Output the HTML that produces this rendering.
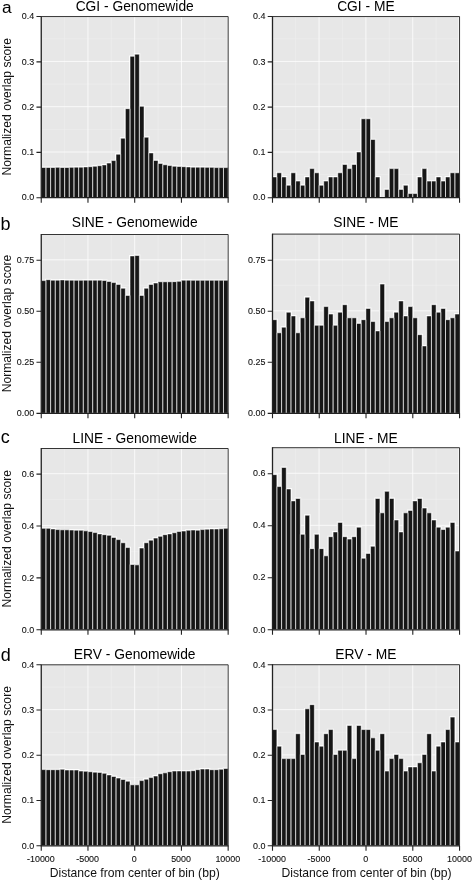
<!DOCTYPE html>
<html lang="en"><head><meta charset="utf-8"><title>Normalized overlap score</title>
<style>
html,body{margin:0;padding:0;background:#fff;}
body{width:473px;height:881px;overflow:hidden;}
svg{display:block;}
text{font-family:"Liberation Sans",sans-serif;fill:#111;}
.tk{font-size:9.6px;fill:#111;stroke:#111;stroke-width:0.1px;}
.tt{font-size:13.8px;fill:#000;}
.yl{font-size:12.15px;fill:#111;}
.xl{font-size:12.15px;fill:#111;}
.lt{font-size:18px;fill:#000;}
</style></head><body>
<svg width="473" height="881" viewBox="0 0 473 881">
<rect width="473" height="881" fill="#fff"/>
<g>
<rect x="41.25" y="16.55" width="186.90" height="181.15" fill="#e7e7e7"/>
<path d="M41.25 174.66H228.15M41.25 129.37H228.15M41.25 84.08H228.15M41.25 38.79H228.15M64.61 16.55V197.70M111.34 16.55V197.70M158.06 16.55V197.70M204.79 16.55V197.70" stroke="#f0f0f0" stroke-width="0.5" fill="none"/>
<path d="M41.25 152.01H228.15M41.25 106.72H228.15M41.25 61.44H228.15M41.25 16.15H228.15M87.97 16.55V197.70M134.70 16.55V197.70M181.43 16.55V197.70M227.40 16.55V197.70" stroke="#fdfdfd" stroke-width="0.85" fill="none"/>
<path d="M41.25 197.70V167.51H45.92V197.70ZM45.92 197.70V167.51H50.59V197.70ZM50.59 197.70V167.51H55.27V197.70ZM55.27 197.70V167.33H59.94V197.70ZM59.94 197.70V167.51H64.61V197.70ZM64.61 197.70V167.51H69.28V197.70ZM69.28 197.70V167.37H73.96V197.70ZM73.96 197.70V167.14H78.63V197.70ZM78.63 197.70V167.14H83.30V197.70ZM83.30 197.70V166.92H87.97V197.70ZM87.97 197.70V166.69H92.65V197.70ZM92.65 197.70V166.24H97.32V197.70ZM97.32 197.70V165.69H101.99V197.70ZM101.99 197.70V164.88H106.67V197.70ZM106.67 197.70V163.06H111.34V197.70ZM111.34 197.70V160.57H116.01V197.70ZM116.01 197.70V154.21H120.68V197.70ZM120.68 197.70V138.20H125.36V197.70ZM125.36 197.70V108.70H130.03V197.70ZM130.03 197.70V56.29H134.70V197.70ZM134.70 197.70V54.16H139.37V197.70ZM139.37 197.70V106.34H144.05V197.70ZM144.05 197.70V137.20H148.72V197.70ZM148.72 197.70V152.90H153.39V197.70ZM153.39 197.70V160.43H158.06V197.70ZM158.06 197.70V163.42H162.74V197.70ZM162.74 197.70V164.74H167.41V197.70ZM167.41 197.70V165.56H172.08V197.70ZM172.08 197.70V166.24H176.75V197.70ZM176.75 197.70V166.46H181.43V197.70ZM181.43 197.70V166.69H186.10V197.70ZM186.10 197.70V166.92H190.77V197.70ZM190.77 197.70V167.14H195.44V197.70ZM195.44 197.70V167.14H200.12V197.70ZM200.12 197.70V167.14H204.79V197.70ZM204.79 197.70V167.37H209.46V197.70ZM209.46 197.70V167.37H214.13V197.70ZM214.13 197.70V167.60H218.81V197.70ZM218.81 197.70V167.60H223.48V197.70ZM223.48 197.70V167.60H228.15V197.70Z" fill="none" stroke="#fff" stroke-width="1.8" stroke-opacity="0.95"/>
<path d="M41.25 197.70V167.51H45.92V197.70ZM45.92 197.70V167.51H50.59V197.70ZM50.59 197.70V167.51H55.27V197.70ZM55.27 197.70V167.33H59.94V197.70ZM59.94 197.70V167.51H64.61V197.70ZM64.61 197.70V167.51H69.28V197.70ZM69.28 197.70V167.37H73.96V197.70ZM73.96 197.70V167.14H78.63V197.70ZM78.63 197.70V167.14H83.30V197.70ZM83.30 197.70V166.92H87.97V197.70ZM87.97 197.70V166.69H92.65V197.70ZM92.65 197.70V166.24H97.32V197.70ZM97.32 197.70V165.69H101.99V197.70ZM101.99 197.70V164.88H106.67V197.70ZM106.67 197.70V163.06H111.34V197.70ZM111.34 197.70V160.57H116.01V197.70ZM116.01 197.70V154.21H120.68V197.70ZM120.68 197.70V138.20H125.36V197.70ZM125.36 197.70V108.70H130.03V197.70ZM130.03 197.70V56.29H134.70V197.70ZM134.70 197.70V54.16H139.37V197.70ZM139.37 197.70V106.34H144.05V197.70ZM144.05 197.70V137.20H148.72V197.70ZM148.72 197.70V152.90H153.39V197.70ZM153.39 197.70V160.43H158.06V197.70ZM158.06 197.70V163.42H162.74V197.70ZM162.74 197.70V164.74H167.41V197.70ZM167.41 197.70V165.56H172.08V197.70ZM172.08 197.70V166.24H176.75V197.70ZM176.75 197.70V166.46H181.43V197.70ZM181.43 197.70V166.69H186.10V197.70ZM186.10 197.70V166.92H190.77V197.70ZM190.77 197.70V167.14H195.44V197.70ZM195.44 197.70V167.14H200.12V197.70ZM200.12 197.70V167.14H204.79V197.70ZM204.79 197.70V167.37H209.46V197.70ZM209.46 197.70V167.37H214.13V197.70ZM214.13 197.70V167.60H218.81V197.70ZM218.81 197.70V167.60H223.48V197.70ZM223.48 197.70V167.60H228.15V197.70Z" fill="#161616" stroke="#fff" stroke-width="0.55"/>
<path d="M41.25 16.55H228.15V197.70" stroke="#2a2a2a" stroke-width="0.95" fill="none"/>
<path d="M41.25 16.15V197.70H228.55" stroke="#222" stroke-width="1.3" fill="none"/>
<path d="M36.45 197.70H41.25M36.45 152.41H41.25M36.45 107.12H41.25M36.45 61.84H41.25M36.45 16.55H41.25M41.25 197.70V202.70M87.97 197.70V202.70M134.70 197.70V202.70M181.43 197.70V202.70M228.15 197.70V202.70" stroke="#222" stroke-width="1.1" fill="none"/>
<text class="tk" transform="translate(34.25 200.40) scale(0.93 1)" text-anchor="end">0.0</text>
<text class="tk" transform="translate(34.25 155.11) scale(0.93 1)" text-anchor="end">0.1</text>
<text class="tk" transform="translate(34.25 109.82) scale(0.93 1)" text-anchor="end">0.2</text>
<text class="tk" transform="translate(34.25 64.54) scale(0.93 1)" text-anchor="end">0.3</text>
<text class="tk" transform="translate(34.25 19.25) scale(0.93 1)" text-anchor="end">0.4</text>
<text class="tt" x="134.70" y="10.50" text-anchor="middle">CGI - Genomewide</text>
</g>
<g>
<rect x="272.20" y="16.55" width="187.35" height="181.15" fill="#e7e7e7"/>
<path d="M272.20 174.66H459.55M272.20 129.37H459.55M272.20 84.08H459.55M272.20 38.79H459.55M295.62 16.55V197.70M342.46 16.55V197.70M389.29 16.55V197.70M436.13 16.55V197.70" stroke="#f0f0f0" stroke-width="0.5" fill="none"/>
<path d="M272.20 152.01H459.55M272.20 106.72H459.55M272.20 61.44H459.55M272.20 16.15H459.55M319.04 16.55V197.70M365.88 16.55V197.70M412.71 16.55V197.70M458.80 16.55V197.70" stroke="#fdfdfd" stroke-width="0.85" fill="none"/>
<path d="M272.20 197.70V176.93H276.88V197.70ZM276.88 197.70V172.77H281.57V197.70ZM281.57 197.70V176.93H286.25V197.70ZM286.25 197.70V185.24H290.94V197.70ZM290.94 197.70V172.77H295.62V197.70ZM295.62 197.70V181.08H300.30V197.70ZM300.30 197.70V185.24H304.99V197.70ZM304.99 197.70V176.93H309.67V197.70ZM309.67 197.70V168.62H314.35V197.70ZM314.35 197.70V172.77H319.04V197.70ZM319.04 197.70V185.24H323.72V197.70ZM323.72 197.70V181.08H328.40V197.70ZM328.40 197.70V176.93H333.09V197.70ZM333.09 197.70V176.93H337.77V197.70ZM337.77 197.70V172.77H342.46V197.70ZM342.46 197.70V164.46H347.14V197.70ZM347.14 197.70V168.62H351.82V197.70ZM351.82 197.70V164.46H356.51V197.70ZM356.51 197.70V152.00H361.19V197.70ZM361.19 197.70V118.76H365.88V197.70ZM365.88 197.70V118.76H370.56V197.70ZM370.56 197.70V139.53H375.24V197.70ZM375.24 197.70V176.93H379.93V197.70ZM384.61 197.70V189.39H389.29V197.70ZM389.29 197.70V168.62H393.98V197.70ZM393.98 197.70V168.62H398.66V197.70ZM398.66 197.70V189.39H403.35V197.70ZM403.35 197.70V185.24H408.03V197.70ZM408.03 197.70V193.55H412.71V197.70ZM412.71 197.70V193.55H417.40V197.70ZM417.40 197.70V176.93H422.08V197.70ZM422.08 197.70V168.62H426.76V197.70ZM426.76 197.70V181.08H431.45V197.70ZM431.45 197.70V181.08H436.13V197.70ZM436.13 197.70V176.93H440.82V197.70ZM440.82 197.70V181.08H445.50V197.70ZM445.50 197.70V176.93H450.18V197.70ZM450.18 197.70V172.77H454.87V197.70ZM454.87 197.70V172.77H459.55V197.70Z" fill="none" stroke="#fff" stroke-width="1.8" stroke-opacity="0.95"/>
<path d="M272.20 197.70V176.93H276.88V197.70ZM276.88 197.70V172.77H281.57V197.70ZM281.57 197.70V176.93H286.25V197.70ZM286.25 197.70V185.24H290.94V197.70ZM290.94 197.70V172.77H295.62V197.70ZM295.62 197.70V181.08H300.30V197.70ZM300.30 197.70V185.24H304.99V197.70ZM304.99 197.70V176.93H309.67V197.70ZM309.67 197.70V168.62H314.35V197.70ZM314.35 197.70V172.77H319.04V197.70ZM319.04 197.70V185.24H323.72V197.70ZM323.72 197.70V181.08H328.40V197.70ZM328.40 197.70V176.93H333.09V197.70ZM333.09 197.70V176.93H337.77V197.70ZM337.77 197.70V172.77H342.46V197.70ZM342.46 197.70V164.46H347.14V197.70ZM347.14 197.70V168.62H351.82V197.70ZM351.82 197.70V164.46H356.51V197.70ZM356.51 197.70V152.00H361.19V197.70ZM361.19 197.70V118.76H365.88V197.70ZM365.88 197.70V118.76H370.56V197.70ZM370.56 197.70V139.53H375.24V197.70ZM375.24 197.70V176.93H379.93V197.70ZM384.61 197.70V189.39H389.29V197.70ZM389.29 197.70V168.62H393.98V197.70ZM393.98 197.70V168.62H398.66V197.70ZM398.66 197.70V189.39H403.35V197.70ZM403.35 197.70V185.24H408.03V197.70ZM408.03 197.70V193.55H412.71V197.70ZM412.71 197.70V193.55H417.40V197.70ZM417.40 197.70V176.93H422.08V197.70ZM422.08 197.70V168.62H426.76V197.70ZM426.76 197.70V181.08H431.45V197.70ZM431.45 197.70V181.08H436.13V197.70ZM436.13 197.70V176.93H440.82V197.70ZM440.82 197.70V181.08H445.50V197.70ZM445.50 197.70V176.93H450.18V197.70ZM450.18 197.70V172.77H454.87V197.70ZM454.87 197.70V172.77H459.55V197.70Z" fill="#161616" stroke="#fff" stroke-width="0.55"/>
<path d="M272.20 16.55H459.55V197.70" stroke="#2a2a2a" stroke-width="0.95" fill="none"/>
<path d="M272.50 16.15V197.70H459.95" stroke="#222" stroke-width="1.3" fill="none"/>
<path d="M267.70 197.70H272.50M267.70 152.41H272.50M267.70 107.12H272.50M267.70 61.84H272.50M267.70 16.55H272.50M272.50 197.70V202.70M319.26 197.70V202.70M366.02 197.70V202.70M412.79 197.70V202.70M459.55 197.70V202.70" stroke="#222" stroke-width="1.1" fill="none"/>
<text class="tk" transform="translate(265.50 200.40) scale(0.93 1)" text-anchor="end">0.0</text>
<text class="tk" transform="translate(265.50 155.11) scale(0.93 1)" text-anchor="end">0.1</text>
<text class="tk" transform="translate(265.50 109.82) scale(0.93 1)" text-anchor="end">0.2</text>
<text class="tk" transform="translate(265.50 64.54) scale(0.93 1)" text-anchor="end">0.3</text>
<text class="tk" transform="translate(265.50 19.25) scale(0.93 1)" text-anchor="end">0.4</text>
<text class="tt" x="365.88" y="10.50" text-anchor="middle">CGI - ME</text>
</g>
<text class="yl" transform="translate(11.3 106.72) rotate(-90)" text-anchor="middle">Normalized overlap score</text>
<text class="lt" style="font-size:17.3px" x="1.90" y="12.50">a</text>
<g>
<rect x="41.25" y="234.50" width="186.90" height="178.85" fill="#e7e7e7"/>
<path d="M41.25 387.43H228.15M41.25 336.38H228.15M41.25 285.33H228.15M64.61 234.50V413.35M111.34 234.50V413.35M158.06 234.50V413.35M204.79 234.50V413.35" stroke="#f0f0f0" stroke-width="0.5" fill="none"/>
<path d="M41.25 361.90H228.15M41.25 310.85H228.15M41.25 259.80H228.15M87.97 234.50V413.35M134.70 234.50V413.35M181.43 234.50V413.35M227.40 234.50V413.35" stroke="#fdfdfd" stroke-width="0.85" fill="none"/>
<path d="M41.25 413.35V280.60H45.92V413.35ZM45.92 413.35V279.70H50.59V413.35ZM50.59 413.35V280.17H55.27V413.35ZM55.27 413.35V280.17H59.94V413.35ZM59.94 413.35V279.90H64.61V413.35ZM64.61 413.35V280.17H69.28V413.35ZM69.28 413.35V280.17H73.96V413.35ZM73.96 413.35V280.31H78.63V413.35ZM78.63 413.35V280.31H83.30V413.35ZM83.30 413.35V280.17H87.97V413.35ZM87.97 413.35V280.17H92.65V413.35ZM92.65 413.35V280.17H97.32V413.35ZM97.32 413.35V280.17H101.99V413.35ZM101.99 413.35V280.52H106.67V413.35ZM106.67 413.35V281.44H111.34V413.35ZM111.34 413.35V282.57H116.01V413.35ZM116.01 413.35V284.41H120.68V413.35ZM120.68 413.35V288.21H125.36V413.35ZM125.36 413.35V295.38H130.03V413.35ZM130.03 413.35V255.91H134.70V413.35ZM134.70 413.35V255.50H139.37V413.35ZM139.37 413.35V295.38H144.05V413.35ZM144.05 413.35V288.21H148.72V413.35ZM148.72 413.35V284.41H153.39V413.35ZM153.39 413.35V282.98H158.06V413.35ZM158.06 413.35V281.75H162.74V413.35ZM162.74 413.35V281.75H167.41V413.35ZM167.41 413.35V281.75H172.08V413.35ZM172.08 413.35V281.64H176.75V413.35ZM176.75 413.35V281.34H181.43V413.35ZM181.43 413.35V280.17H186.10V413.35ZM186.10 413.35V280.17H190.77V413.35ZM190.77 413.35V280.31H195.44V413.35ZM195.44 413.35V280.31H200.12V413.35ZM200.12 413.35V280.31H204.79V413.35ZM204.79 413.35V280.31H209.46V413.35ZM209.46 413.35V280.31H214.13V413.35ZM214.13 413.35V280.31H218.81V413.35ZM218.81 413.35V280.31H223.48V413.35ZM223.48 413.35V280.31H228.15V413.35Z" fill="none" stroke="#fff" stroke-width="1.8" stroke-opacity="0.95"/>
<path d="M41.25 413.35V280.60H45.92V413.35ZM45.92 413.35V279.70H50.59V413.35ZM50.59 413.35V280.17H55.27V413.35ZM55.27 413.35V280.17H59.94V413.35ZM59.94 413.35V279.90H64.61V413.35ZM64.61 413.35V280.17H69.28V413.35ZM69.28 413.35V280.17H73.96V413.35ZM73.96 413.35V280.31H78.63V413.35ZM78.63 413.35V280.31H83.30V413.35ZM83.30 413.35V280.17H87.97V413.35ZM87.97 413.35V280.17H92.65V413.35ZM92.65 413.35V280.17H97.32V413.35ZM97.32 413.35V280.17H101.99V413.35ZM101.99 413.35V280.52H106.67V413.35ZM106.67 413.35V281.44H111.34V413.35ZM111.34 413.35V282.57H116.01V413.35ZM116.01 413.35V284.41H120.68V413.35ZM120.68 413.35V288.21H125.36V413.35ZM125.36 413.35V295.38H130.03V413.35ZM130.03 413.35V255.91H134.70V413.35ZM134.70 413.35V255.50H139.37V413.35ZM139.37 413.35V295.38H144.05V413.35ZM144.05 413.35V288.21H148.72V413.35ZM148.72 413.35V284.41H153.39V413.35ZM153.39 413.35V282.98H158.06V413.35ZM158.06 413.35V281.75H162.74V413.35ZM162.74 413.35V281.75H167.41V413.35ZM167.41 413.35V281.75H172.08V413.35ZM172.08 413.35V281.64H176.75V413.35ZM176.75 413.35V281.34H181.43V413.35ZM181.43 413.35V280.17H186.10V413.35ZM186.10 413.35V280.17H190.77V413.35ZM190.77 413.35V280.31H195.44V413.35ZM195.44 413.35V280.31H200.12V413.35ZM200.12 413.35V280.31H204.79V413.35ZM204.79 413.35V280.31H209.46V413.35ZM209.46 413.35V280.31H214.13V413.35ZM214.13 413.35V280.31H218.81V413.35ZM218.81 413.35V280.31H223.48V413.35ZM223.48 413.35V280.31H228.15V413.35Z" fill="#161616" stroke="#fff" stroke-width="0.55"/>
<path d="M41.25 234.50H228.15V413.35" stroke="#2a2a2a" stroke-width="0.95" fill="none"/>
<path d="M41.25 234.10V413.35H228.55" stroke="#222" stroke-width="1.3" fill="none"/>
<path d="M36.45 413.35H41.25M36.45 362.30H41.25M36.45 311.25H41.25M36.45 260.20H41.25M41.25 413.35V418.35M87.97 413.35V418.35M134.70 413.35V418.35M181.43 413.35V418.35M228.15 413.35V418.35" stroke="#222" stroke-width="1.1" fill="none"/>
<text class="tk" transform="translate(34.25 416.05) scale(0.93 1)" text-anchor="end">0.00</text>
<text class="tk" transform="translate(34.25 365.00) scale(0.93 1)" text-anchor="end">0.25</text>
<text class="tk" transform="translate(34.25 313.95) scale(0.93 1)" text-anchor="end">0.50</text>
<text class="tk" transform="translate(34.25 262.90) scale(0.93 1)" text-anchor="end">0.75</text>
<text class="tt" x="134.70" y="227.00" text-anchor="middle">SINE - Genomewide</text>
</g>
<g>
<rect x="272.20" y="234.10" width="187.35" height="179.25" fill="#e7e7e7"/>
<path d="M272.20 387.43H459.55M272.20 336.38H459.55M272.20 285.33H459.55M295.62 234.10V413.35M342.46 234.10V413.35M389.29 234.10V413.35M436.13 234.10V413.35" stroke="#f0f0f0" stroke-width="0.5" fill="none"/>
<path d="M272.20 361.90H459.55M272.20 310.85H459.55M272.20 259.80H459.55M319.04 234.10V413.35M365.88 234.10V413.35M412.71 234.10V413.35M458.80 234.10V413.35" stroke="#fdfdfd" stroke-width="0.85" fill="none"/>
<path d="M272.20 413.35V319.68H276.88V413.35ZM276.88 413.35V332.79H281.57V413.35ZM281.57 413.35V327.17H286.25V413.35ZM286.25 413.35V312.19H290.94V413.35ZM290.94 413.35V315.93H295.62V413.35ZM295.62 413.35V332.79H300.30V413.35ZM300.30 413.35V317.81H304.99V413.35ZM304.99 413.35V297.20H309.67V413.35ZM309.67 413.35V300.95H314.35V413.35ZM314.35 413.35V325.30H319.04V413.35ZM319.04 413.35V325.30H323.72V413.35ZM323.72 413.35V306.57H328.40V413.35ZM328.40 413.35V314.06H333.09V413.35ZM333.09 413.35V325.30H337.77V413.35ZM337.77 413.35V312.19H342.46V413.35ZM342.46 413.35V304.69H347.14V413.35ZM347.14 413.35V317.81H351.82V413.35ZM351.82 413.35V317.81H356.51V413.35ZM356.51 413.35V323.43H361.19V413.35ZM361.19 413.35V319.68H365.88V413.35ZM365.88 413.35V308.44H370.56V413.35ZM370.56 413.35V321.55H375.24V413.35ZM375.24 413.35V330.92H379.93V413.35ZM379.93 413.35V284.09H384.61V413.35ZM384.61 413.35V321.55H389.29V413.35ZM389.29 413.35V317.81H393.98V413.35ZM393.98 413.35V312.19H398.66V413.35ZM398.66 413.35V300.95H403.35V413.35ZM403.35 413.35V315.93H408.03V413.35ZM408.03 413.35V306.57H412.71V413.35ZM412.71 413.35V317.81H417.40V413.35ZM417.40 413.35V334.67H422.08V413.35ZM422.08 413.35V345.91H426.76V413.35ZM426.76 413.35V315.93H431.45V413.35ZM431.45 413.35V304.69H436.13V413.35ZM436.13 413.35V312.19H440.82V413.35ZM440.82 413.35V308.44H445.50V413.35ZM445.50 413.35V319.68H450.18V413.35ZM450.18 413.35V317.81H454.87V413.35ZM454.87 413.35V314.06H459.55V413.35Z" fill="none" stroke="#fff" stroke-width="1.8" stroke-opacity="0.95"/>
<path d="M272.20 413.35V319.68H276.88V413.35ZM276.88 413.35V332.79H281.57V413.35ZM281.57 413.35V327.17H286.25V413.35ZM286.25 413.35V312.19H290.94V413.35ZM290.94 413.35V315.93H295.62V413.35ZM295.62 413.35V332.79H300.30V413.35ZM300.30 413.35V317.81H304.99V413.35ZM304.99 413.35V297.20H309.67V413.35ZM309.67 413.35V300.95H314.35V413.35ZM314.35 413.35V325.30H319.04V413.35ZM319.04 413.35V325.30H323.72V413.35ZM323.72 413.35V306.57H328.40V413.35ZM328.40 413.35V314.06H333.09V413.35ZM333.09 413.35V325.30H337.77V413.35ZM337.77 413.35V312.19H342.46V413.35ZM342.46 413.35V304.69H347.14V413.35ZM347.14 413.35V317.81H351.82V413.35ZM351.82 413.35V317.81H356.51V413.35ZM356.51 413.35V323.43H361.19V413.35ZM361.19 413.35V319.68H365.88V413.35ZM365.88 413.35V308.44H370.56V413.35ZM370.56 413.35V321.55H375.24V413.35ZM375.24 413.35V330.92H379.93V413.35ZM379.93 413.35V284.09H384.61V413.35ZM384.61 413.35V321.55H389.29V413.35ZM389.29 413.35V317.81H393.98V413.35ZM393.98 413.35V312.19H398.66V413.35ZM398.66 413.35V300.95H403.35V413.35ZM403.35 413.35V315.93H408.03V413.35ZM408.03 413.35V306.57H412.71V413.35ZM412.71 413.35V317.81H417.40V413.35ZM417.40 413.35V334.67H422.08V413.35ZM422.08 413.35V345.91H426.76V413.35ZM426.76 413.35V315.93H431.45V413.35ZM431.45 413.35V304.69H436.13V413.35ZM436.13 413.35V312.19H440.82V413.35ZM440.82 413.35V308.44H445.50V413.35ZM445.50 413.35V319.68H450.18V413.35ZM450.18 413.35V317.81H454.87V413.35ZM454.87 413.35V314.06H459.55V413.35Z" fill="#161616" stroke="#fff" stroke-width="0.55"/>
<path d="M272.20 234.10H459.55V413.35" stroke="#2a2a2a" stroke-width="0.95" fill="none"/>
<path d="M272.50 233.70V413.35H459.95" stroke="#222" stroke-width="1.3" fill="none"/>
<path d="M267.70 413.35H272.50M267.70 362.30H272.50M267.70 311.25H272.50M267.70 260.20H272.50M272.50 413.35V418.35M319.26 413.35V418.35M366.02 413.35V418.35M412.79 413.35V418.35M459.55 413.35V418.35" stroke="#222" stroke-width="1.1" fill="none"/>
<text class="tk" transform="translate(265.50 416.05) scale(0.93 1)" text-anchor="end">0.00</text>
<text class="tk" transform="translate(265.50 365.00) scale(0.93 1)" text-anchor="end">0.25</text>
<text class="tk" transform="translate(265.50 313.95) scale(0.93 1)" text-anchor="end">0.50</text>
<text class="tk" transform="translate(265.50 262.90) scale(0.93 1)" text-anchor="end">0.75</text>
<text class="tt" x="365.88" y="227.00" text-anchor="middle">SINE - ME</text>
</g>
<text class="yl" transform="translate(11.3 323.53) rotate(-90)" text-anchor="middle">Normalized overlap score</text>
<text class="lt" style="font-size:18px" x="0.40" y="230.30">b</text>
<g>
<rect x="41.25" y="448.50" width="186.90" height="181.30" fill="#e7e7e7"/>
<path d="M41.25 603.45H228.15M41.25 551.55H228.15M41.25 499.65H228.15M64.61 448.50V629.80M111.34 448.50V629.80M158.06 448.50V629.80M204.79 448.50V629.80" stroke="#f0f0f0" stroke-width="0.5" fill="none"/>
<path d="M41.25 577.50H228.15M41.25 525.60H228.15M41.25 473.70H228.15M87.97 448.50V629.80M134.70 448.50V629.80M181.43 448.50V629.80M227.40 448.50V629.80" stroke="#fdfdfd" stroke-width="0.85" fill="none"/>
<path d="M41.25 629.80V528.34H45.92V629.80ZM45.92 629.80V528.34H50.59V629.80ZM50.59 629.80V528.94H55.27V629.80ZM55.27 629.80V529.59H59.94V629.80ZM59.94 629.80V529.82H64.61V629.80ZM64.61 629.80V529.82H69.28V629.80ZM69.28 629.80V530.03H73.96V629.80ZM73.96 629.80V530.24H78.63V629.80ZM78.63 629.80V530.24H83.30V629.80ZM83.30 629.80V530.86H87.97V629.80ZM87.97 629.80V531.54H92.65V629.80ZM92.65 629.80V532.58H97.32V629.80ZM97.32 629.80V533.88H101.99V629.80ZM101.99 629.80V534.67H106.67V629.80ZM106.67 629.80V535.32H111.34V629.80ZM111.34 629.80V537.43H116.01V629.80ZM116.01 629.80V539.61H120.68V629.80ZM120.68 629.80V542.74H125.36V629.80ZM125.36 629.80V547.55H130.03V629.80ZM130.03 629.80V564.48H134.70V629.80ZM134.70 629.80V564.87H139.37V629.80ZM139.37 629.80V548.00H144.05V629.80ZM144.05 629.80V542.74H148.72V629.80ZM148.72 629.80V540.13H153.39V629.80ZM153.39 629.80V538.05H158.06V629.80ZM158.06 629.80V536.33H162.74V629.80ZM162.74 629.80V534.67H167.41V629.80ZM167.41 629.80V533.88H172.08V629.80ZM172.08 629.80V532.74H176.75V629.80ZM176.75 629.80V531.54H181.43V629.80ZM181.43 629.80V531.02H186.10V629.80ZM186.10 629.80V530.24H190.77V629.80ZM190.77 629.80V530.03H195.44V629.80ZM195.44 629.80V530.24H200.12V629.80ZM200.12 629.80V529.59H204.79V629.80ZM204.79 629.80V529.20H209.46V629.80ZM209.46 629.80V528.94H214.13V629.80ZM214.13 629.80V528.94H218.81V629.80ZM218.81 629.80V528.76H223.48V629.80ZM223.48 629.80V528.34H228.15V629.80Z" fill="none" stroke="#fff" stroke-width="1.8" stroke-opacity="0.95"/>
<path d="M41.25 629.80V528.34H45.92V629.80ZM45.92 629.80V528.34H50.59V629.80ZM50.59 629.80V528.94H55.27V629.80ZM55.27 629.80V529.59H59.94V629.80ZM59.94 629.80V529.82H64.61V629.80ZM64.61 629.80V529.82H69.28V629.80ZM69.28 629.80V530.03H73.96V629.80ZM73.96 629.80V530.24H78.63V629.80ZM78.63 629.80V530.24H83.30V629.80ZM83.30 629.80V530.86H87.97V629.80ZM87.97 629.80V531.54H92.65V629.80ZM92.65 629.80V532.58H97.32V629.80ZM97.32 629.80V533.88H101.99V629.80ZM101.99 629.80V534.67H106.67V629.80ZM106.67 629.80V535.32H111.34V629.80ZM111.34 629.80V537.43H116.01V629.80ZM116.01 629.80V539.61H120.68V629.80ZM120.68 629.80V542.74H125.36V629.80ZM125.36 629.80V547.55H130.03V629.80ZM130.03 629.80V564.48H134.70V629.80ZM134.70 629.80V564.87H139.37V629.80ZM139.37 629.80V548.00H144.05V629.80ZM144.05 629.80V542.74H148.72V629.80ZM148.72 629.80V540.13H153.39V629.80ZM153.39 629.80V538.05H158.06V629.80ZM158.06 629.80V536.33H162.74V629.80ZM162.74 629.80V534.67H167.41V629.80ZM167.41 629.80V533.88H172.08V629.80ZM172.08 629.80V532.74H176.75V629.80ZM176.75 629.80V531.54H181.43V629.80ZM181.43 629.80V531.02H186.10V629.80ZM186.10 629.80V530.24H190.77V629.80ZM190.77 629.80V530.03H195.44V629.80ZM195.44 629.80V530.24H200.12V629.80ZM200.12 629.80V529.59H204.79V629.80ZM204.79 629.80V529.20H209.46V629.80ZM209.46 629.80V528.94H214.13V629.80ZM214.13 629.80V528.94H218.81V629.80ZM218.81 629.80V528.76H223.48V629.80ZM223.48 629.80V528.34H228.15V629.80Z" fill="#161616" stroke="#fff" stroke-width="0.55"/>
<path d="M41.25 448.50H228.15V629.80" stroke="#2a2a2a" stroke-width="0.95" fill="none"/>
<path d="M41.25 448.10V629.80H228.55" stroke="#222" stroke-width="1.3" fill="none"/>
<path d="M36.45 629.80H41.25M36.45 577.90H41.25M36.45 526.00H41.25M36.45 474.10H41.25M41.25 629.80V634.80M87.97 629.80V634.80M134.70 629.80V634.80M181.43 629.80V634.80M228.15 629.80V634.80" stroke="#222" stroke-width="1.1" fill="none"/>
<text class="tk" transform="translate(34.25 632.50) scale(0.93 1)" text-anchor="end">0.0</text>
<text class="tk" transform="translate(34.25 580.60) scale(0.93 1)" text-anchor="end">0.2</text>
<text class="tk" transform="translate(34.25 528.70) scale(0.93 1)" text-anchor="end">0.4</text>
<text class="tk" transform="translate(34.25 476.80) scale(0.93 1)" text-anchor="end">0.6</text>
<text class="tt" x="134.70" y="443.30" text-anchor="middle">LINE - Genomewide</text>
</g>
<g>
<rect x="272.20" y="447.70" width="187.35" height="182.10" fill="#e7e7e7"/>
<path d="M272.20 603.38H459.55M272.20 551.34H459.55M272.20 499.30H459.55M295.62 447.70V629.80M342.46 447.70V629.80M389.29 447.70V629.80M436.13 447.70V629.80" stroke="#f0f0f0" stroke-width="0.5" fill="none"/>
<path d="M272.20 577.36H459.55M272.20 525.32H459.55M272.20 473.28H459.55M319.04 447.70V629.80M365.88 447.70V629.80M412.71 447.70V629.80M458.80 447.70V629.80" stroke="#fdfdfd" stroke-width="0.85" fill="none"/>
<path d="M272.20 629.80V474.63H276.88V629.80ZM276.88 629.80V486.57H281.57V629.80ZM281.57 629.80V467.47H286.25V629.80ZM286.25 629.80V488.96H290.94V629.80ZM290.94 629.80V500.89H295.62V629.80ZM295.62 629.80V498.51H300.30V629.80ZM300.30 629.80V534.31H304.99V629.80ZM304.99 629.80V515.22H309.67V629.80ZM309.67 629.80V548.64H314.35V629.80ZM314.35 629.80V534.31H319.04V629.80ZM319.04 629.80V548.64H323.72V629.80ZM323.72 629.80V555.80H328.40V629.80ZM328.40 629.80V536.70H333.09V629.80ZM333.09 629.80V531.93H337.77V629.80ZM337.77 629.80V522.38H342.46V629.80ZM342.46 629.80V536.70H347.14V629.80ZM347.14 629.80V539.09H351.82V629.80ZM351.82 629.80V536.70H356.51V629.80ZM356.51 629.80V527.15H361.19V629.80ZM361.19 629.80V558.19H365.88V629.80ZM365.88 629.80V553.41H370.56V629.80ZM370.56 629.80V546.25H375.24V629.80ZM375.24 629.80V498.51H379.93V629.80ZM379.93 629.80V512.83H384.61V629.80ZM384.61 629.80V491.34H389.29V629.80ZM389.29 629.80V498.51H393.98V629.80ZM393.98 629.80V519.99H398.66V629.80ZM398.66 629.80V531.93H403.35V629.80ZM403.35 629.80V512.83H408.03V629.80ZM408.03 629.80V510.44H412.71V629.80ZM412.71 629.80V500.89H417.40V629.80ZM417.40 629.80V498.51H422.08V629.80ZM422.08 629.80V508.06H426.76V629.80ZM426.76 629.80V512.83H431.45V629.80ZM431.45 629.80V519.99H436.13V629.80ZM436.13 629.80V527.15H440.82V629.80ZM440.82 629.80V529.54H445.50V629.80ZM445.50 629.80V527.15H450.18V629.80ZM450.18 629.80V522.38H454.87V629.80ZM454.87 629.80V551.02H459.55V629.80Z" fill="none" stroke="#fff" stroke-width="1.8" stroke-opacity="0.95"/>
<path d="M272.20 629.80V474.63H276.88V629.80ZM276.88 629.80V486.57H281.57V629.80ZM281.57 629.80V467.47H286.25V629.80ZM286.25 629.80V488.96H290.94V629.80ZM290.94 629.80V500.89H295.62V629.80ZM295.62 629.80V498.51H300.30V629.80ZM300.30 629.80V534.31H304.99V629.80ZM304.99 629.80V515.22H309.67V629.80ZM309.67 629.80V548.64H314.35V629.80ZM314.35 629.80V534.31H319.04V629.80ZM319.04 629.80V548.64H323.72V629.80ZM323.72 629.80V555.80H328.40V629.80ZM328.40 629.80V536.70H333.09V629.80ZM333.09 629.80V531.93H337.77V629.80ZM337.77 629.80V522.38H342.46V629.80ZM342.46 629.80V536.70H347.14V629.80ZM347.14 629.80V539.09H351.82V629.80ZM351.82 629.80V536.70H356.51V629.80ZM356.51 629.80V527.15H361.19V629.80ZM361.19 629.80V558.19H365.88V629.80ZM365.88 629.80V553.41H370.56V629.80ZM370.56 629.80V546.25H375.24V629.80ZM375.24 629.80V498.51H379.93V629.80ZM379.93 629.80V512.83H384.61V629.80ZM384.61 629.80V491.34H389.29V629.80ZM389.29 629.80V498.51H393.98V629.80ZM393.98 629.80V519.99H398.66V629.80ZM398.66 629.80V531.93H403.35V629.80ZM403.35 629.80V512.83H408.03V629.80ZM408.03 629.80V510.44H412.71V629.80ZM412.71 629.80V500.89H417.40V629.80ZM417.40 629.80V498.51H422.08V629.80ZM422.08 629.80V508.06H426.76V629.80ZM426.76 629.80V512.83H431.45V629.80ZM431.45 629.80V519.99H436.13V629.80ZM436.13 629.80V527.15H440.82V629.80ZM440.82 629.80V529.54H445.50V629.80ZM445.50 629.80V527.15H450.18V629.80ZM450.18 629.80V522.38H454.87V629.80ZM454.87 629.80V551.02H459.55V629.80Z" fill="#161616" stroke="#fff" stroke-width="0.55"/>
<path d="M272.20 447.70H459.55V629.80" stroke="#2a2a2a" stroke-width="0.95" fill="none"/>
<path d="M272.50 447.30V629.80H459.95" stroke="#222" stroke-width="1.3" fill="none"/>
<path d="M267.70 629.80H272.50M267.70 577.76H272.50M267.70 525.72H272.50M267.70 473.68H272.50M272.50 629.80V634.80M319.26 629.80V634.80M366.02 629.80V634.80M412.79 629.80V634.80M459.55 629.80V634.80" stroke="#222" stroke-width="1.1" fill="none"/>
<text class="tk" transform="translate(265.50 632.50) scale(0.93 1)" text-anchor="end">0.0</text>
<text class="tk" transform="translate(265.50 580.46) scale(0.93 1)" text-anchor="end">0.2</text>
<text class="tk" transform="translate(265.50 528.42) scale(0.93 1)" text-anchor="end">0.4</text>
<text class="tk" transform="translate(265.50 476.38) scale(0.93 1)" text-anchor="end">0.6</text>
<text class="tt" x="365.88" y="442.80" text-anchor="middle">LINE - ME</text>
</g>
<text class="yl" transform="translate(11.3 538.75) rotate(-90)" text-anchor="middle">Normalized overlap score</text>
<text class="lt" style="font-size:18px" x="0.70" y="443.10">c</text>
<g>
<rect x="41.25" y="664.80" width="186.90" height="181.00" fill="#e7e7e7"/>
<path d="M41.25 822.77H228.15M41.25 777.52H228.15M41.25 732.27H228.15M41.25 687.02H228.15M64.61 664.80V845.80M111.34 664.80V845.80M158.06 664.80V845.80M204.79 664.80V845.80" stroke="#f0f0f0" stroke-width="0.5" fill="none"/>
<path d="M41.25 800.15H228.15M41.25 754.90H228.15M41.25 709.65H228.15M41.25 664.40H228.15M87.97 664.80V845.80M134.70 664.80V845.80M181.43 664.80V845.80M227.40 664.80V845.80" stroke="#fdfdfd" stroke-width="0.85" fill="none"/>
<path d="M41.25 845.80V769.60H45.92V845.80ZM45.92 845.80V769.69H50.59V845.80ZM50.59 845.80V769.69H55.27V845.80ZM55.27 845.80V769.69H59.94V845.80ZM59.94 845.80V769.24H64.61V845.80ZM64.61 845.80V770.01H69.28V845.80ZM69.28 845.80V770.01H73.96V845.80ZM73.96 845.80V770.01H78.63V845.80ZM78.63 845.80V771.04H83.30V845.80ZM83.30 845.80V771.27H87.97V845.80ZM87.97 845.80V771.72H92.65V845.80ZM92.65 845.80V772.13H97.32V845.80ZM97.32 845.80V772.40H101.99V845.80ZM101.99 845.80V773.30H106.67V845.80ZM106.67 845.80V774.88H111.34V845.80ZM111.34 845.80V776.46H116.01V845.80ZM116.01 845.80V778.04H120.68V845.80ZM120.68 845.80V779.53H125.36V845.80ZM125.36 845.80V781.20H130.03V845.80ZM130.03 845.80V784.81H134.70V845.80ZM134.70 845.80V784.81H139.37V845.80ZM139.37 845.80V780.61H144.05V845.80ZM144.05 845.80V779.17H148.72V845.80ZM148.72 845.80V777.59H153.39V845.80ZM153.39 845.80V776.01H158.06V845.80ZM158.06 845.80V773.75H162.74V845.80ZM162.74 845.80V772.85H167.41V845.80ZM167.41 845.80V771.72H172.08V845.80ZM172.08 845.80V771.04H176.75V845.80ZM176.75 845.80V770.95H181.43V845.80ZM181.43 845.80V771.04H186.10V845.80ZM186.10 845.80V771.04H190.77V845.80ZM190.77 845.80V770.68H195.44V845.80ZM195.44 845.80V769.69H200.12V845.80ZM200.12 845.80V769.01H204.79V845.80ZM204.79 845.80V769.01H209.46V845.80ZM209.46 845.80V769.69H214.13V845.80ZM214.13 845.80V769.69H218.81V845.80ZM218.81 845.80V769.24H223.48V845.80ZM223.48 845.80V768.52H228.15V845.80Z" fill="none" stroke="#fff" stroke-width="1.8" stroke-opacity="0.95"/>
<path d="M41.25 845.80V769.60H45.92V845.80ZM45.92 845.80V769.69H50.59V845.80ZM50.59 845.80V769.69H55.27V845.80ZM55.27 845.80V769.69H59.94V845.80ZM59.94 845.80V769.24H64.61V845.80ZM64.61 845.80V770.01H69.28V845.80ZM69.28 845.80V770.01H73.96V845.80ZM73.96 845.80V770.01H78.63V845.80ZM78.63 845.80V771.04H83.30V845.80ZM83.30 845.80V771.27H87.97V845.80ZM87.97 845.80V771.72H92.65V845.80ZM92.65 845.80V772.13H97.32V845.80ZM97.32 845.80V772.40H101.99V845.80ZM101.99 845.80V773.30H106.67V845.80ZM106.67 845.80V774.88H111.34V845.80ZM111.34 845.80V776.46H116.01V845.80ZM116.01 845.80V778.04H120.68V845.80ZM120.68 845.80V779.53H125.36V845.80ZM125.36 845.80V781.20H130.03V845.80ZM130.03 845.80V784.81H134.70V845.80ZM134.70 845.80V784.81H139.37V845.80ZM139.37 845.80V780.61H144.05V845.80ZM144.05 845.80V779.17H148.72V845.80ZM148.72 845.80V777.59H153.39V845.80ZM153.39 845.80V776.01H158.06V845.80ZM158.06 845.80V773.75H162.74V845.80ZM162.74 845.80V772.85H167.41V845.80ZM167.41 845.80V771.72H172.08V845.80ZM172.08 845.80V771.04H176.75V845.80ZM176.75 845.80V770.95H181.43V845.80ZM181.43 845.80V771.04H186.10V845.80ZM186.10 845.80V771.04H190.77V845.80ZM190.77 845.80V770.68H195.44V845.80ZM195.44 845.80V769.69H200.12V845.80ZM200.12 845.80V769.01H204.79V845.80ZM204.79 845.80V769.01H209.46V845.80ZM209.46 845.80V769.69H214.13V845.80ZM214.13 845.80V769.69H218.81V845.80ZM218.81 845.80V769.24H223.48V845.80ZM223.48 845.80V768.52H228.15V845.80Z" fill="#161616" stroke="#fff" stroke-width="0.55"/>
<path d="M41.25 664.80H228.15V845.80" stroke="#2a2a2a" stroke-width="0.95" fill="none"/>
<path d="M41.25 664.40V845.80H228.55" stroke="#222" stroke-width="1.3" fill="none"/>
<path d="M36.45 845.80H41.25M36.45 800.55H41.25M36.45 755.30H41.25M36.45 710.05H41.25M36.45 664.80H41.25M41.25 845.80V850.80M87.97 845.80V850.80M134.70 845.80V850.80M181.43 845.80V850.80M228.15 845.80V850.80" stroke="#222" stroke-width="1.1" fill="none"/>
<text class="tk" transform="translate(34.25 848.50) scale(0.93 1)" text-anchor="end">0.0</text>
<text class="tk" transform="translate(34.25 803.25) scale(0.93 1)" text-anchor="end">0.1</text>
<text class="tk" transform="translate(34.25 758.00) scale(0.93 1)" text-anchor="end">0.2</text>
<text class="tk" transform="translate(34.25 712.75) scale(0.93 1)" text-anchor="end">0.3</text>
<text class="tk" transform="translate(34.25 667.50) scale(0.93 1)" text-anchor="end">0.4</text>
<text class="tt" x="134.70" y="658.50" text-anchor="middle">ERV - Genomewide</text>
<text class="tk" transform="translate(40.90 862.10) scale(0.93 1)" text-anchor="middle">-10000</text>
<text class="tk" transform="translate(87.62 862.10) scale(0.93 1)" text-anchor="middle">-5000</text>
<text class="tk" transform="translate(134.35 862.10) scale(0.93 1)" text-anchor="middle">0</text>
<text class="tk" transform="translate(181.08 862.10) scale(0.93 1)" text-anchor="middle">5000</text>
<text class="tk" transform="translate(227.80 862.10) scale(0.93 1)" text-anchor="middle">10000</text>
<text class="xl" x="134.70" y="876.80" text-anchor="middle">Distance from center of bin (bp)</text>
</g>
<g>
<rect x="272.20" y="664.70" width="187.35" height="181.10" fill="#e7e7e7"/>
<path d="M272.20 822.77H459.55M272.20 777.52H459.55M272.20 732.27H459.55M272.20 687.02H459.55M295.62 664.70V845.80M342.46 664.70V845.80M389.29 664.70V845.80M436.13 664.70V845.80" stroke="#f0f0f0" stroke-width="0.5" fill="none"/>
<path d="M272.20 800.15H459.55M272.20 754.90H459.55M272.20 709.65H459.55M272.20 664.40H459.55M319.04 664.70V845.80M365.88 664.70V845.80M412.71 664.70V845.80M458.80 664.70V845.80" stroke="#fdfdfd" stroke-width="0.85" fill="none"/>
<path d="M272.20 845.80V729.56H276.88V845.80ZM276.88 845.80V746.17H281.57V845.80ZM281.57 845.80V758.62H286.25V845.80ZM286.25 845.80V758.62H290.94V845.80ZM290.94 845.80V758.62H295.62V845.80ZM295.62 845.80V733.71H300.30V845.80ZM300.30 845.80V754.47H304.99V845.80ZM304.99 845.80V708.80H309.67V845.80ZM309.67 845.80V704.65H314.35V845.80ZM314.35 845.80V742.02H319.04V845.80ZM319.04 845.80V746.17H323.72V845.80ZM323.72 845.80V733.71H328.40V845.80ZM328.40 845.80V729.56H333.09V845.80ZM333.09 845.80V754.47H337.77V845.80ZM337.77 845.80V750.32H342.46V845.80ZM342.46 845.80V750.32H347.14V845.80ZM347.14 845.80V725.41H351.82V845.80ZM351.82 845.80V758.62H356.51V845.80ZM356.51 845.80V725.41H361.19V845.80ZM361.19 845.80V729.56H365.88V845.80ZM365.88 845.80V729.56H370.56V845.80ZM370.56 845.80V737.86H375.24V845.80ZM375.24 845.80V750.32H379.93V845.80ZM379.93 845.80V733.71H384.61V845.80ZM384.61 845.80V771.08H389.29V845.80ZM389.29 845.80V758.62H393.98V845.80ZM393.98 845.80V754.47H398.66V845.80ZM398.66 845.80V758.62H403.35V845.80ZM403.35 845.80V771.08H408.03V845.80ZM408.03 845.80V766.92H412.71V845.80ZM412.71 845.80V766.92H417.40V845.80ZM417.40 845.80V762.77H422.08V845.80ZM422.08 845.80V754.47H426.76V845.80ZM426.76 845.80V733.71H431.45V845.80ZM431.45 845.80V771.08H436.13V845.80ZM436.13 845.80V746.17H440.82V845.80ZM440.82 845.80V742.02H445.50V845.80ZM445.50 845.80V729.56H450.18V845.80ZM450.18 845.80V717.11H454.87V845.80ZM454.87 845.80V742.02H459.55V845.80Z" fill="none" stroke="#fff" stroke-width="1.8" stroke-opacity="0.95"/>
<path d="M272.20 845.80V729.56H276.88V845.80ZM276.88 845.80V746.17H281.57V845.80ZM281.57 845.80V758.62H286.25V845.80ZM286.25 845.80V758.62H290.94V845.80ZM290.94 845.80V758.62H295.62V845.80ZM295.62 845.80V733.71H300.30V845.80ZM300.30 845.80V754.47H304.99V845.80ZM304.99 845.80V708.80H309.67V845.80ZM309.67 845.80V704.65H314.35V845.80ZM314.35 845.80V742.02H319.04V845.80ZM319.04 845.80V746.17H323.72V845.80ZM323.72 845.80V733.71H328.40V845.80ZM328.40 845.80V729.56H333.09V845.80ZM333.09 845.80V754.47H337.77V845.80ZM337.77 845.80V750.32H342.46V845.80ZM342.46 845.80V750.32H347.14V845.80ZM347.14 845.80V725.41H351.82V845.80ZM351.82 845.80V758.62H356.51V845.80ZM356.51 845.80V725.41H361.19V845.80ZM361.19 845.80V729.56H365.88V845.80ZM365.88 845.80V729.56H370.56V845.80ZM370.56 845.80V737.86H375.24V845.80ZM375.24 845.80V750.32H379.93V845.80ZM379.93 845.80V733.71H384.61V845.80ZM384.61 845.80V771.08H389.29V845.80ZM389.29 845.80V758.62H393.98V845.80ZM393.98 845.80V754.47H398.66V845.80ZM398.66 845.80V758.62H403.35V845.80ZM403.35 845.80V771.08H408.03V845.80ZM408.03 845.80V766.92H412.71V845.80ZM412.71 845.80V766.92H417.40V845.80ZM417.40 845.80V762.77H422.08V845.80ZM422.08 845.80V754.47H426.76V845.80ZM426.76 845.80V733.71H431.45V845.80ZM431.45 845.80V771.08H436.13V845.80ZM436.13 845.80V746.17H440.82V845.80ZM440.82 845.80V742.02H445.50V845.80ZM445.50 845.80V729.56H450.18V845.80ZM450.18 845.80V717.11H454.87V845.80ZM454.87 845.80V742.02H459.55V845.80Z" fill="#161616" stroke="#fff" stroke-width="0.55"/>
<path d="M272.20 664.70H459.55V845.80" stroke="#2a2a2a" stroke-width="0.95" fill="none"/>
<path d="M272.50 664.30V845.80H459.95" stroke="#222" stroke-width="1.3" fill="none"/>
<path d="M267.70 845.80H272.50M267.70 800.55H272.50M267.70 755.30H272.50M267.70 710.05H272.50M267.70 664.80H272.50M272.50 845.80V850.80M319.26 845.80V850.80M366.02 845.80V850.80M412.79 845.80V850.80M459.55 845.80V850.80" stroke="#222" stroke-width="1.1" fill="none"/>
<text class="tk" transform="translate(265.50 848.50) scale(0.93 1)" text-anchor="end">0.0</text>
<text class="tk" transform="translate(265.50 803.25) scale(0.93 1)" text-anchor="end">0.1</text>
<text class="tk" transform="translate(265.50 758.00) scale(0.93 1)" text-anchor="end">0.2</text>
<text class="tk" transform="translate(265.50 712.75) scale(0.93 1)" text-anchor="end">0.3</text>
<text class="tk" transform="translate(265.50 667.50) scale(0.93 1)" text-anchor="end">0.4</text>
<text class="tt" x="365.88" y="658.50" text-anchor="middle">ERV - ME</text>
<text class="tk" transform="translate(272.15 862.10) scale(0.93 1)" text-anchor="middle">-10000</text>
<text class="tk" transform="translate(318.99 862.10) scale(0.93 1)" text-anchor="middle">-5000</text>
<text class="tk" transform="translate(365.82 862.10) scale(0.93 1)" text-anchor="middle">0</text>
<text class="tk" transform="translate(412.66 862.10) scale(0.93 1)" text-anchor="middle">5000</text>
<text class="tk" transform="translate(459.50 862.10) scale(0.93 1)" text-anchor="middle">10000</text>
<text class="xl" x="366.48" y="876.80" text-anchor="middle">Distance from center of bin (bp)</text>
</g>
<text class="yl" transform="translate(11.3 754.90) rotate(-90)" text-anchor="middle">Normalized overlap score</text>
<text class="lt" style="font-size:18px" x="0.70" y="661.00">d</text>
</svg>
</body></html>
